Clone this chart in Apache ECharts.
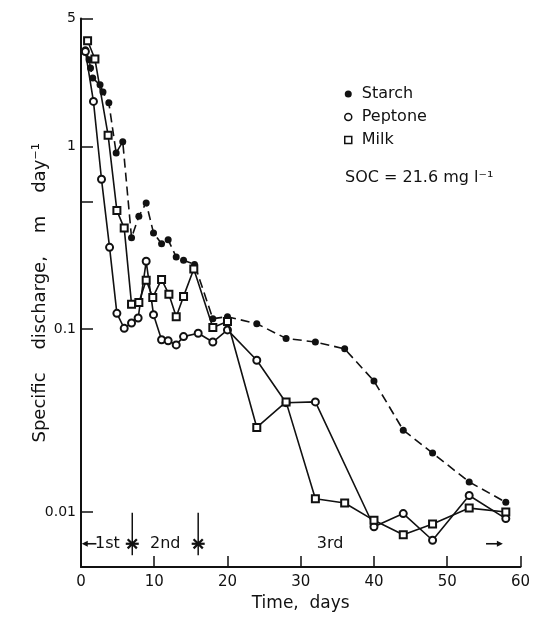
<!DOCTYPE html>
<html>
<head>
<meta charset="utf-8">
<script src="https://cdn.jsdelivr.net/npm/echarts@6/dist/echarts.min.js"></script>
<style>
  html, body { margin: 0; padding: 0; background: #fff; }
  #chart { width: 533px; height: 617px; }
</style>
</head>
<body>
<div id="chart"></div>
<script>
// Specific discharge (m day^-1) against time (days) for three substrates
const starchDays   = [0.6, 1.1, 1.3, 1.6, 2.6, 3.0, 3.8, 4.8, 5.7, 6.9, 7.9, 8.9, 9.9, 11, 11.9, 13, 14, 15.5, 18, 20, 24, 28, 32, 36, 40, 44, 48, 53, 58];
const starchValues = [3.37, 2.97, 2.68, 2.36, 2.17, 1.98, 1.73, 0.92, 1.06, 0.316, 0.415, 0.49, 0.336, 0.293, 0.308, 0.248, 0.238, 0.226, 0.114, 0.117, 0.107, 0.089, 0.085, 0.078, 0.052, 0.028, 0.021, 0.0146, 0.0113];

const peptoneDays   = [0.6, 1.7, 2.8, 3.9, 4.9, 5.9, 6.9, 7.8, 8.9, 9.9, 11, 11.9, 13, 14, 16, 18, 20, 24, 28, 32, 40, 44, 48, 53, 58];
const peptoneValues = [3.3, 1.76, 0.66, 0.28, 0.122, 0.101, 0.108, 0.115, 0.235, 0.12, 0.0875, 0.0864, 0.082, 0.091, 0.095, 0.085, 0.099, 0.0676, 0.0396, 0.040, 0.0083, 0.0098, 0.0070, 0.0123, 0.0092];

const milkDays   = [0.9, 1.9, 3.7, 4.9, 5.9, 6.9, 7.9, 8.9, 9.8, 11, 12, 13, 14, 15.4, 18, 20, 24, 28, 32, 36, 40, 44, 48, 53, 58];
const milkValues = [3.78, 3.0, 1.15, 0.445, 0.357, 0.137, 0.14, 0.185, 0.149, 0.187, 0.155, 0.117, 0.151, 0.213, 0.102, 0.110, 0.029, 0.040, 0.0118, 0.0112, 0.0090, 0.0075, 0.0086, 0.0105, 0.010];

// Axis ticks
const xTickStep = 10;
const yTickValues = [0.01, 0.1, 0.5, 1, 5];
const yLabelValues = [0.01, 0.1, 1, 5];
const yTickLabels = ['0.01', '0.1', '1', '5'];

// Loading phases marked along the bottom of the plot
const phaseDividerDays = [7, 16];
const phaseNames = ['1st', '2nd', '3rd'];
const phaseNameDays = [3.6, 11.5, 34];
const phaseArrowTail = [2.1, 55.3];
const phaseArrowHead = [0.1, 57.6];
const phaseRowLevel = 0.0067;
const dividerTopLevel = 0.0099;
const dividerBottomLevel = 0.0058;

const INK = '#111';
const FONT = '"DejaVu Sans", sans-serif';

const zip = (xs, ys) => xs.map((x, i) => [x, ys[i]]);

function renderDivider(params, api) {
  const d = api.value(0);
  const top = api.coord([d, dividerTopLevel]);
  const bot = api.coord([d, dividerBottomLevel]);
  const c = api.coord([d, phaseRowLevel]);
  const arm = 6.5, diag = 4.6;
  const bold = { stroke: INK, lineWidth: 2.2 };
  return {
    type: 'group',
    children: [
      { type: 'line', shape: { x1: top[0], y1: top[1], x2: bot[0], y2: bot[1] }, style: { stroke: INK, lineWidth: 1.5 } },
      { type: 'line', shape: { x1: c[0] - arm, y1: c[1], x2: c[0] + arm, y2: c[1] }, style: bold },
      { type: 'line', shape: { x1: c[0] - diag, y1: c[1] - diag, x2: c[0] + diag, y2: c[1] + diag }, style: bold },
      { type: 'line', shape: { x1: c[0] - diag, y1: c[1] + diag, x2: c[0] + diag, y2: c[1] - diag }, style: bold },
      { type: 'circle', shape: { cx: c[0], cy: c[1], r: 2.2 }, style: { fill: INK } }
    ]
  };
}

function renderPhaseName(params, api) {
  const p = api.coord([api.value(0), api.value(1)]);
  return {
    type: 'text',
    x: p[0], y: p[1],
    style: {
      text: phaseNames[params.dataIndex],
      fontSize: 16, fontFamily: FONT, fill: INK,
      align: 'center', verticalAlign: 'middle'
    }
  };
}

function renderArrow(params, api) {
  const i = params.dataIndex;
  const a = api.coord([phaseArrowTail[i], phaseRowLevel]);
  const b = api.coord([phaseArrowHead[i], phaseRowLevel]);
  const dir = Math.sign(b[0] - a[0]);
  const len = 6, half = 3;
  return {
    type: 'group',
    children: [
      { type: 'line', shape: { x1: a[0], y1: a[1], x2: b[0] - dir * len * 0.5, y2: b[1] }, style: { stroke: INK, lineWidth: 1.6 } },
      { type: 'polygon', shape: { points: [[b[0], b[1]], [b[0] - dir * len, b[1] - half], [b[0] - dir * len, b[1] + half]] }, style: { fill: INK } }
    ]
  };
}

function yLabel(v) {
  const i = yLabelValues.findIndex(t => Math.abs(Math.log10(t) - Math.log10(v)) < 1e-6);
  return i >= 0 ? yTickLabels[i] : '';
}

const chart = echarts.init(document.getElementById('chart'), null, { renderer: 'canvas' });

chart.setOption({
  animation: false,
  backgroundColor: '#fff',
  grid: { left: 81, right: 10.3, top: 18.5, bottom: 46 },
  textStyle: { fontFamily: FONT, color: INK },
  xAxis: {
    type: 'value', min: 0, max: 60, interval: xTickStep,
    axisLine: { lineStyle: { color: INK, width: 2 } },
    axisTick: { inside: true, length: 11, lineStyle: { color: INK, width: 1.5 } },
    axisLabel: { fontSize: 15, color: INK, fontFamily: FONT, margin: 8 },
    splitLine: { show: false },
    name: 'Time,  days', nameLocation: 'middle', nameGap: 28, nameMoveOverlap: false,
    nameTextStyle: { fontSize: 17, color: INK, fontFamily: FONT }
  },
  yAxis: {
    type: 'log', logBase: 10, min: 0.005, max: 5,
    axisLine: { show: true, lineStyle: { color: INK, width: 2 } },
    axisTick: { show: true, inside: true, length: 12, lineStyle: { color: INK, width: 1.5 }, customValues: yTickValues },
    axisLabel: { fontSize: 14, color: INK, fontFamily: FONT, margin: 5, customValues: yLabelValues, formatter: yLabel },
    splitLine: { show: false },
    minorTick: { show: false },
    name: 'Specific    discharge,    m    day\u207B\u00B9', nameLocation: 'middle', nameGap: 32, nameMoveOverlap: false,
    nameTextStyle: { fontSize: 18, color: INK, fontFamily: FONT }
  },
  legend: {
    orient: 'vertical', left: 339, top: 81,
    itemWidth: 7, itemHeight: 7, itemGap: 7,
    selectedMode: false,
    textStyle: { fontSize: 16, color: INK, fontFamily: FONT, padding: [0, 0, 0, 5] },
    data: [
      { name: 'Starch', icon: 'circle', itemStyle: { color: INK, borderWidth: 0 } },
      { name: 'Peptone', icon: 'circle', itemStyle: { color: '#fff', borderColor: INK, borderWidth: 1.5 } },
      { name: 'Milk', icon: 'rect', itemStyle: { color: '#fff', borderColor: INK, borderWidth: 1.5 } }
    ]
  },
  graphic: [
    {
      type: 'text', left: 345, top: 170,
      style: { text: 'SOC = 21.6 mg l\u207B\u00B9', fontSize: 16, fontFamily: FONT, fill: INK }
    }
  ],
  series: [
    {
      name: 'Starch', type: 'line', data: zip(starchDays, starchValues),
      symbol: 'circle', symbolSize: 7,
      itemStyle: { color: INK },
      lineStyle: { color: INK, width: 1.6, type: [9, 5] },
      z: 3
    },
    {
      name: 'Peptone', type: 'line', data: zip(peptoneDays, peptoneValues),
      symbol: 'emptyCircle', symbolSize: 7,
      itemStyle: { color: INK, borderWidth: 1.5 },
      lineStyle: { color: INK, width: 1.6 },
      z: 4
    },
    {
      name: 'Milk', type: 'line', data: zip(milkDays, milkValues),
      symbol: 'emptyRect', symbolSize: 7,
      itemStyle: { color: INK, borderWidth: 1.5 },
      lineStyle: { color: INK, width: 1.6 },
      z: 5
    },
    {
      name: 'phase dividers', type: 'custom', silent: true, clip: false,
      data: phaseDividerDays.map(d => [d, phaseRowLevel]),
      renderItem: renderDivider, z: 6
    },
    {
      name: 'phase names', type: 'custom', silent: true, clip: false,
      data: phaseNameDays.map(d => [d, phaseRowLevel]),
      renderItem: renderPhaseName, z: 6
    },
    {
      name: 'phase arrows', type: 'custom', silent: true, clip: false,
      data: phaseArrowTail.map(d => [d, phaseRowLevel]),
      renderItem: renderArrow, z: 6
    }
  ]
});
</script>
</body>
</html>
